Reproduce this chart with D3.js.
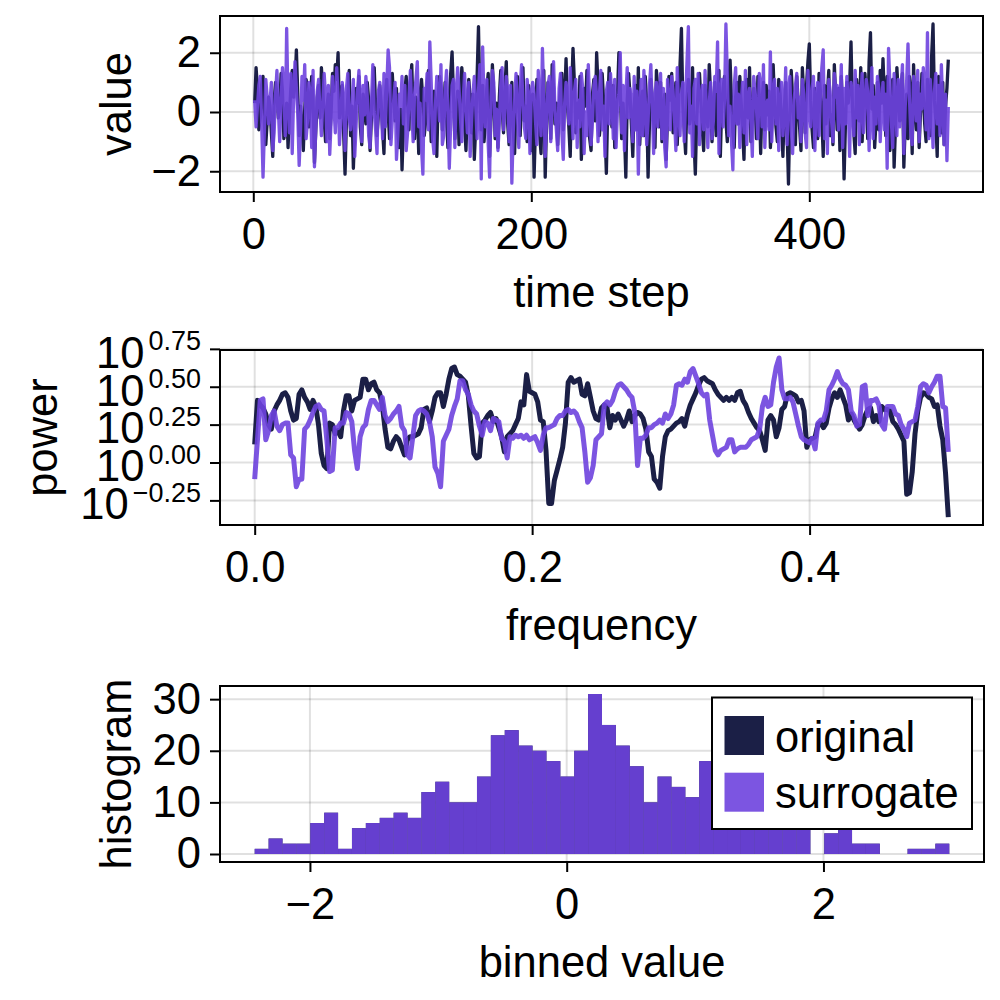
<!DOCTYPE html>
<html><head><meta charset="utf-8">
<script src="https://cdn.jsdelivr.net/npm/d3@7"></script>
<style>
body{margin:0;background:#fff}
svg{display:block}
text{font-family:"Liberation Sans", Arial, Helvetica, sans-serif; fill:#000}
</style>
</head><body>
<svg id="c" width="1000" height="1000"></svg>
<script>
// ---------------- DATA ----------------
const seriesNames = ["original", "surrogate"];

// time series (time step 1..500)
const originalSeries = [
0.3,1.5,0.8,-0.6,-0.2,0.9,1.2,-0.4,-1.1,-0.3,
0.5,0.2,-0.7,-1.5,0.4,1.0,0.6,-0.2,0.1,1.3,
0.7,-0.9,-0.5,0.3,-1.2,-0.1,0.8,1.4,0.5,0.9,
2.1,0.6,-0.8,0.2,-0.4,-1.3,0.1,1.1,0.7,-0.5,
0.3,1.2,0.4,-1.7,-0.6,0.5,0.9,-0.2,1.5,0.8,
-0.3,-1.0,0.2,0.6,-0.9,0.0,1.3,0.7,1.6,1.1,
2.0,-0.2,0.4,0.9,-0.7,-2.1,-0.3,0.5,1.4,-0.8,
0.2,-1.9,-0.6,0.8,0.3,1.2,-0.5,-1.1,0.6,0.1,
-0.4,1.0,0.4,-1.3,-0.2,0.7,1.5,0.2,-0.8,-0.1,
0.9,0.3,-0.6,-1.4,0.5,1.1,0.0,-0.9,0.6,1.3,
0.4,-0.3,0.8,-0.7,-1.2,0.1,-1.95,-0.5,0.7,1.2,
0.3,-0.6,1.0,1.6,-0.1,-0.9,0.5,0.2,-1.4,0.6,
1.1,0.4,-0.8,-0.3,0.9,1.4,0.3,-1.0,-0.4,0.7,
0.2,-1.5,0.5,1.2,0.8,-0.6,0.1,1.0,-0.2,-1.2,
0.4,1.3,2.03,0.6,-0.9,-0.2,0.7,-1.1,0.3,1.5,
0.9,-0.4,-1.3,0.2,1.1,0.5,-0.7,0.6,-1.6,-0.5,
1.2,2.88,0.4,-0.6,0.9,-1.0,-0.3,0.8,1.3,-1.5,
-0.2,1.6,0.6,-0.9,0.3,-1.2,0.5,1.4,0.1,-0.7,
0.8,1.7,-0.4,-1.1,0.2,1.0,-0.6,-1.4,0.4,1.2,
0.5,-0.8,0.7,1.5,-0.3,0.2,-1.0,0.9,0.3,-1.3,
0.6,-2.2,-0.5,1.1,0.4,-0.8,-1.4,0.7,1.4,-2.2,
-0.3,1.0,0.5,-0.9,1.6,0.8,-0.4,0.3,-1.1,0.1,
0.9,1.3,-0.6,0.4,1.8,0.2,-0.5,-1.5,0.7,2.15,
1.0,-0.7,0.3,-0.2,1.2,-1.6,-0.4,0.8,0.2,1.4,
0.5,-0.9,-1.3,0.6,1.1,-0.3,2.0,0.9,-0.8,-0.2,
1.3,0.4,-0.6,-2.07,0.2,1.5,0.7,-0.5,0.9,-1.2,
-0.1,0.6,2.0,0.8,-0.9,0.3,-0.7,-2.2,0.4,1.3,
0.6,-0.4,-1.5,0.2,0.9,-0.6,1.5,-1.1,0.0,0.7,
-0.8,1.2,0.3,-2.2,-0.4,1.1,0.5,-0.3,-1.2,1.4,
0.8,-0.5,1.0,-1.0,0.1,0.6,-1.6,-0.2,1.2,0.4,
1.3,-0.7,0.2,1.0,-1.1,0.4,1.6,2.82,0.3,-0.6,
-1.4,0.5,1.1,-0.4,0.0,1.5,-0.9,-2.1,-0.2,0.7,
1.3,0.4,-0.6,-1.3,0.9,0.2,-0.5,1.6,0.6,-1.0,
0.1,1.0,-0.8,-0.2,1.4,-1.5,0.3,0.8,1.2,-0.3,
-1.0,0.6,1.75,0.4,-0.7,-1.2,0.5,1.0,-0.4,1.2,
0.3,-0.6,-1.6,0.7,1.1,-0.2,1.5,-1.0,-0.3,0.8,
0.2,-0.9,1.2,0.5,-1.4,0.4,1.0,-0.6,0.9,-0.1,
0.7,-1.2,-0.4,1.6,0.3,-0.5,-1.0,1.1,0.6,-0.3,
-1.5,0.1,1.0,-0.6,-2.43,-0.2,1.4,0.5,-0.4,-1.1,
1.2,0.3,-0.5,-1.3,1.5,0.6,-0.7,0.9,1.7,2.3,
0.4,-0.6,-1.2,0.8,0.2,-0.9,1.3,0.7,-0.2,-1.5,
0.9,-0.4,0.6,1.4,-0.8,-0.1,-1.1,1.6,0.5,-0.6,
0.8,-1.3,1.2,0.1,-2.26,-0.4,1.0,0.3,0.9,2.37,
0.2,-0.7,-1.4,1.1,0.5,-0.3,1.5,-1.0,0.4,1.3,
0.6,-0.9,1.7,2.68,0.1,0.9,-1.2,-0.3,1.0,-0.6,
1.4,0.3,1.8,0.5,-0.8,1.2,0.4,-1.3,0.2,1.1,
-1.86,-0.5,1.5,0.6,-0.3,0.9,1.3,-1.86,-0.4,0.6,
-0.9,1.2,0.7,-1.4,1.6,0.2,-0.6,1.0,-1.2,0.0,
1.3,0.5,-0.4,-1.0,1.1,0.3,-0.8,1.9,2.97,0.4,
-0.3,-1.5,1.2,0.6,-0.7,1.0,-1.1,0.2,0.8,1.77
];
const surrogateSeries = [
0.4,-0.5,0.2,0.9,1.2,-0.3,-2.2,-0.6,1.1,0.5,
-0.4,0.3,1.0,-1.3,-0.7,0.6,1.4,0.1,-1.0,0.4,
1.5,0.7,-0.8,2.82,0.3,-0.7,1.3,-1.4,0.5,1.7,
0.8,-0.1,-1.8,-0.6,1.2,0.4,1.6,-0.9,-0.3,1.0,
0.6,-1.2,1.4,-1.85,-0.5,0.7,1.1,0.0,-0.8,0.3,
1.3,0.5,-1.0,0.9,-1.43,-0.3,1.2,0.2,-0.7,1.5,
0.6,-1.1,-0.2,1.0,0.4,-1.3,0.8,1.3,-0.2,-0.6,
0.2,1.1,-1.5,-0.4,0.7,1.4,0.3,-1.0,0.9,-0.1,
1.2,0.5,-0.8,-1.2,0.3,1.6,0.0,-0.6,-1.4,0.7,
1.0,0.3,-0.9,1.3,-0.5,0.8,2.1,1.5,-1.1,-0.3,
0.4,1.0,-1.6,-0.8,0.6,0.2,1.2,-0.4,0.9,-1.3,
-0.7,0.5,1.4,0.1,-1.0,0.6,1.1,1.7,-0.5,0.3,
-1.2,-2.1,0.8,0.4,1.3,-0.6,2.37,1.0,-0.9,-1.4,
0.2,1.2,0.5,-0.3,1.6,-1.1,-0.8,0.7,1.4,0.0,
-1.9,-0.4,0.9,1.1,-1.2,0.6,1.5,0.8,-0.2,-1.0,
0.4,1.3,0.1,-0.7,1.0,-1.5,-0.3,0.6,1.2,0.2,
-0.9,0.7,1.6,-2.26,2.2,0.3,-0.5,1.1,-1.1,-2.2,
0.5,1.4,1.0,-0.8,0.1,-1.3,-0.4,0.9,1.5,-0.6,
0.2,1.2,0.6,-1.0,0.9,-2.4,-0.7,0.4,1.3,0.0,
-1.2,0.8,1.6,0.3,-0.5,-0.9,1.1,0.5,-1.4,0.7,
1.0,0.6,-0.3,-1.1,1.4,0.2,-0.8,2.15,0.4,-1.5,
-0.2,0.9,1.2,-1.0,0.5,1.7,0.1,-0.6,-1.3,0.8,
1.3,-0.7,-1.6,0.3,1.0,0.6,-0.4,1.5,0.2,-0.9,
0.7,1.1,-1.2,0.4,-0.5,1.3,0.8,-1.4,0.0,-0.8,
1.6,0.3,-1.1,-0.3,0.9,1.2,0.5,-1.0,0.6,1.4,
-0.6,0.2,-1.5,0.7,1.0,-0.4,1.3,0.4,-0.9,1.1,
-1.2,0.1,0.6,2.0,-0.7,0.9,-1.3,0.5,1.5,-0.2,
0.8,0.3,-1.0,1.2,-0.6,0.7,-2.1,0.0,1.1,-0.8,
1.4,0.4,-1.1,-0.3,0.9,1.6,0.2,-1.4,0.6,1.0,
-0.5,0.5,1.3,-0.9,0.8,-1.2,-1.85,1.1,0.3,-0.6,
1.2,0.7,-0.2,-1.3,1.5,0.1,-0.8,0.6,1.0,-1.0,
0.4,1.7,2.88,-0.7,0.2,-1.5,0.8,1.1,-0.4,1.3,
-1.1,0.5,0.9,-0.6,1.4,0.0,-1.2,0.3,1.0,-0.9,
-0.3,1.2,0.7,2.37,-1.4,0.6,1.1,-0.5,0.4,2.97,
1.3,-0.8,0.2,-1.0,-1.95,0.9,1.5,-0.4,0.6,-1.2,
0.3,1.0,-0.7,1.4,-1.1,0.5,0.8,-0.3,-1.5,1.2,
0.7,0.1,-0.9,1.3,0.9,-0.5,1.6,-1.2,0.2,0.4,
-0.6,2.03,-1.0,0.6,1.1,-0.4,0.8,-1.3,0.3,1.0,
-0.8,0.0,1.5,-1.1,0.7,1.2,-0.6,-1.4,0.4,0.9,
1.3,-0.2,0.5,-1.0,1.1,0.6,-0.7,-1.2,1.4,0.2,
-0.5,0.8,1.2,-1.3,0.3,1.0,-0.8,0.6,1.5,2.1,
-0.9,0.4,-1.4,1.1,0.7,-0.3,-1.0,1.3,0.5,0.9,
-0.6,0.1,1.6,-1.2,0.8,-0.4,1.2,0.3,-1.5,1.0,
0.6,-0.8,1.4,-0.2,0.9,-1.1,0.4,1.3,-0.7,0.2,
1.1,0.7,-1.3,0.0,1.5,-0.9,0.5,-0.4,1.2,0.8,
-1.0,0.3,1.0,-0.6,0.6,-1.9,2.15,0.9,-0.3,-1.2,
1.3,0.4,-0.8,1.1,-0.5,0.7,1.6,-1.4,0.2,1.0,
2.3,0.5,-0.7,-1.1,1.2,0.9,-0.3,1.4,-1.0,0.6,
0.1,1.5,0.8,-0.6,2.68,-0.9,1.1,0.3,-1.2,0.7,
1.3,-0.4,0.9,-0.8,1.6,0.2,-1.1,0.6,-1.64,0.17
];

// power spectra: log10(power) at frequency index k (frequency = k * 0.002, k = 0..250)
const frequencyStep = 0.002;
const originalLog10Power = [
0.12,0.41,0.38,0.36,0.32,0.25,0.22,0.34,0.38,0.41,
0.45,0.46,0.43,0.34,0.28,0.29,0.45,0.48,0.43,0.40,
0.35,0.41,0.37,0.25,0.06,-0.02,-0.04,0.26,0.25,0.19,
0.21,0.17,0.34,0.44,0.44,0.34,0.41,0.42,0.43,0.55,
0.55,0.48,0.52,0.53,0.48,0.46,0.38,0.22,0.10,0.09,
0.14,0.17,0.15,0.10,0.05,0.15,0.17,0.17,0.18,0.19,
0.23,0.35,0.36,0.27,0.34,0.43,0.46,0.46,0.37,0.45,
0.55,0.62,0.63,0.58,0.57,0.55,0.53,0.44,0.24,0.06,
0.03,0.04,0.26,0.28,0.31,0.33,0.27,0.29,0.23,0.17,
0.07,0.17,0.19,0.21,0.25,0.29,0.40,0.38,0.58,0.47,
0.46,0.45,0.40,0.28,0.27,0.08,-0.27,-0.27,-0.12,-0.05,
0.02,0.10,0.26,0.53,0.56,0.53,0.54,0.55,0.45,0.44,
0.52,0.43,0.34,0.29,0.28,0.36,0.38,0.36,0.23,0.31,
0.28,0.32,0.28,0.24,0.28,0.34,0.27,0.31,0.33,0.32,
0.29,0.22,0.07,0.04,-0.11,-0.13,-0.17,0.04,0.17,0.21,
0.22,0.24,0.26,0.27,0.29,0.24,0.32,0.38,0.42,0.46,
0.51,0.55,0.56,0.54,0.53,0.52,0.48,0.45,0.43,0.41,
0.43,0.41,0.43,0.41,0.46,0.47,0.41,0.38,0.33,0.29,
0.26,0.23,0.21,0.15,0.08,0.28,0.31,0.28,0.17,0.23,
0.35,0.37,0.45,0.46,0.45,0.44,0.40,0.41,0.34,0.10,
0.15,0.16,0.17,0.25,0.26,0.23,0.26,0.36,0.42,0.46,
0.43,0.48,0.43,0.38,0.28,0.32,0.28,0.25,0.22,0.25,
0.31,0.35,0.36,0.27,0.31,0.27,0.37,0.35,0.35,0.34,
0.27,0.25,0.22,0.18,0.14,-0.21,-0.20,-0.06,0.19,0.34,
0.43,0.46,0.45,0.43,0.42,0.37,0.38,0.24,0.15,-0.07,
-0.36
];
const surrogateLog10Power = [
-0.11,0.15,0.41,0.42,0.15,0.21,0.31,0.34,0.24,0.21,
0.25,0.26,0.26,0.05,0.03,-0.16,-0.11,-0.11,0.22,0.24,
0.28,0.33,0.37,0.38,0.35,0.34,0.15,-0.06,-0.05,0.23,
0.23,0.26,0.26,0.33,0.32,0.27,0.08,-0.04,0.17,0.23,
0.25,0.35,0.41,0.41,0.38,0.35,0.43,0.31,0.27,0.29,
0.32,0.34,0.37,0.24,0.21,0.05,0.03,0.17,0.31,0.34,
0.35,0.34,0.32,0.27,0.17,-0.03,-0.07,-0.16,0.14,0.18,
0.22,0.31,0.37,0.42,0.54,0.54,0.48,0.45,0.38,0.34,
0.32,0.24,0.18,0.27,0.26,0.21,0.29,0.28,0.27,0.16,
0.14,0.03,0.17,0.16,0.18,0.17,0.18,0.16,0.18,0.15,
0.16,0.17,0.13,0.08,0.18,0.23,0.23,0.24,0.25,0.29,
0.31,0.31,0.34,0.35,0.33,0.34,0.32,0.27,0.23,0.07,
-0.13,-0.10,-0.02,0.15,0.17,0.19,0.38,0.40,0.38,0.41,
0.47,0.51,0.52,0.50,0.48,0.45,0.43,0.33,-0.02,0.16,
0.16,0.18,0.23,0.23,0.25,0.26,0.28,0.26,0.32,0.29,
0.32,0.38,0.51,0.52,0.51,0.55,0.53,0.60,0.62,0.57,
0.52,0.46,0.44,0.45,0.28,0.18,0.08,0.05,0.08,0.09,
0.10,0.15,0.15,0.07,0.09,0.10,0.10,0.10,0.12,0.15,
0.16,0.17,0.22,0.37,0.43,0.37,0.38,0.53,0.63,0.69,
0.48,0.42,0.42,0.43,0.40,0.32,0.24,0.17,0.15,0.14,
0.13,0.16,0.09,0.26,0.28,0.28,0.34,0.48,0.51,0.55,
0.60,0.55,0.52,0.51,0.48,0.34,0.31,0.24,0.25,0.50,
0.51,0.31,0.41,0.41,0.42,0.38,0.25,0.22,0.37,0.37,
0.37,0.32,0.31,0.25,0.22,0.17,0.26,0.27,0.28,0.37,
0.50,0.52,0.51,0.46,0.50,0.53,0.57,0.57,0.37,0.36,
0.07
];

// histogram (50 equal bins between the data extremes)
const histRange = [-2.43, 2.98];
const originalBinCounts = [1,3,2,2,6,8,1,5,6,7, 8,7,12,14,10,10,15,23,24,21, 20,18,15,20,31,25,21,17,10,15, 13,11,18,12,11,9,10,8,7,6, 0,4,6,2,2,0,0,1,1,2];
const surrogateBinCounts = [1,3,2,2,6,8,1,5,6,7, 8,7,12,14,10,10,15,23,24,21, 20,18,15,20,31,25,21,17,10,15, 13,11,18,12,11,9,10,8,7,6, 0,4,6,2,2,0,0,1,1,2];

// ticks
const timeTicks = [0, 200, 400];
const valueTicks = [-2, 0, 2];
const freqTicks = [0.0, 0.2, 0.4];
const powerExpTicks = [-0.25, 0.0, 0.25, 0.50, 0.75];
const binTicks = [-2, 0, 2];
const countTicks = [0, 10, 20, 30];

// ---------------- STYLE ----------------
const colOriginal = "#1b1f46";
const colSurrogate = "rgb(110,66,222)";
const surrogateAlpha = 0.9;
const FS = 43.5;
const gridColor = "rgba(0,0,0,0.12)";

const svg = d3.select("#c");
svg.append("rect").attr("width", 1000).attr("height", 1000).attr("fill", "#fff");

function pad(ext, f = 0.05) { const r = ext[1] - ext[0]; return [ext[0] - f * r, ext[1] + f * r]; }

function drawAxes(box, x, y, xTicks, yTicks, xFmt, yFmt, xLabel, yLabel, yLabelX, isSup) {
  const g = svg.append("g");
  g.selectAll(null).data(xTicks).join("line")
    .attr("x1", d => x(d)).attr("x2", d => x(d)).attr("y1", box.y0).attr("y2", box.y1)
    .attr("stroke", gridColor).attr("stroke-width", 2);
  g.selectAll(null).data(yTicks).join("line")
    .attr("y1", d => y(d)).attr("y2", d => y(d)).attr("x1", box.x0).attr("x2", box.x1)
    .attr("stroke", gridColor).attr("stroke-width", 2);
  const clipId = "clip" + Math.round(box.y0);
  svg.append("clipPath").attr("id", clipId).append("rect")
    .attr("x", box.x0).attr("y", box.y0).attr("width", box.x1 - box.x0).attr("height", box.y1 - box.y0);
  const content = svg.append("g").attr("clip-path", `url(#${clipId})`);
  const finish = () => {
    const top = svg.append("g");
    top.append("rect").attr("x", box.x0).attr("y", box.y0).attr("width", box.x1 - box.x0).attr("height", box.y1 - box.y0)
      .attr("fill", "none").attr("stroke", "#000").attr("stroke-width", 2);
    const ax = top.append("g").attr("transform", `translate(0,${box.y1})`)
      .call(d3.axisBottom(x).tickValues(xTicks).tickFormat(xFmt).tickSize(10).tickPadding(16.5).tickSizeOuter(0));
    const ay = top.append("g").attr("transform", `translate(${box.x0},0)`)
      .call(d3.axisLeft(y).tickValues(yTicks).tickFormat(yFmt).tickSize(10).tickPadding(9).tickSizeOuter(0));
    [ax, ay].forEach(a => {
      a.select(".domain").remove();
      a.selectAll(".tick line").attr("stroke", "#000").attr("stroke-width", 2);
      a.selectAll(".tick text").attr("font-size", FS).attr("font-family", null).attr("fill", "#000");
    });
    if (isSup) {
      ay.selectAll(".tick text").each(function(d) {
        const t = d3.select(this);
        const exp = d3.format(".2f")(Math.log10(d));
        t.text(null).attr("dy", "0.42em");
        t.append("tspan").text("10");
        t.append("tspan").attr("font-size", FS * 0.62).attr("dx", 4).attr("dy", -FS * 0.4).text(exp);
      });
    }
    top.append("text").attr("x", (box.x0 + box.x1) / 2).attr("y", box.y1 + 115)
      .attr("text-anchor", "middle").attr("font-size", FS).text(xLabel);
    top.append("text").attr("transform", `translate(${yLabelX},${(box.y0 + box.y1) / 2}) rotate(-90)`)
      .attr("text-anchor", "middle").attr("font-size", FS).text(yLabel);
  };
  return { content, finish };
}

// ---------------- PANEL 1: time series ----------------
{
  const box = { x0: 220, x1: 983, y0: 16, y1: 192 };
  const steps = originalSeries.map((_, i) => i + 1);
  const x = d3.scaleLinear().domain(pad([1, originalSeries.length])).range([box.x0, box.x1]);
  const y = d3.scaleLinear().domain(pad(d3.extent(originalSeries.concat(surrogateSeries)))).range([box.y1, box.y0]);
  const p = drawAxes(box, x, y, timeTicks, valueTicks, d3.format("d"), d3.format("d"), "time step", "value", 131, false);
  const line = d3.line().x((d, i) => x(steps[i])).y(d => y(d));
  p.content.append("path").datum(originalSeries).attr("d", line).attr("fill", "none")
    .attr("stroke", colOriginal).attr("stroke-width", 3.3).attr("stroke-linejoin", "round");
  p.content.append("path").datum(surrogateSeries).attr("d", line).attr("fill", "none")
    .attr("stroke", colSurrogate).attr("stroke-opacity", surrogateAlpha).attr("stroke-width", 3.3).attr("stroke-linejoin", "round");
  p.finish();
}

// ---------------- PANEL 2: power spectrum ----------------
{
  const box = { x0: 220, x1: 983, y0: 350, y1: 525 };
  const freqs = originalLog10Power.map((_, k) => k * frequencyStep);
  const x = d3.scaleLinear().domain(pad(d3.extent(freqs))).range([box.x0, box.x1]);
  const le = pad(d3.extent(originalLog10Power.concat(surrogateLog10Power)));
  const y = d3.scaleLog().domain([10 ** le[0], 10 ** le[1]]).range([box.y1, box.y0]);
  const p = drawAxes(box, x, y, freqTicks, powerExpTicks.map(e => 10 ** e), d3.format(".1f"), d => d, "frequency", "power", 57, true);
  const line = d3.line().x((d, i) => x(freqs[i])).y(d => y(10 ** d));
  p.content.append("path").datum(originalLog10Power).attr("d", line).attr("fill", "none")
    .attr("stroke", colOriginal).attr("stroke-width", 5).attr("stroke-linejoin", "round");
  p.content.append("path").datum(surrogateLog10Power).attr("d", line).attr("fill", "none")
    .attr("stroke", colSurrogate).attr("stroke-opacity", surrogateAlpha).attr("stroke-width", 5).attr("stroke-linejoin", "round");
  p.finish();
}

// ---------------- PANEL 3: histogram ----------------
{
  const box = { x0: 220, x1: 984, y0: 686, y1: 862 };
  const nb = originalBinCounts.length;
  const bw = (histRange[1] - histRange[0]) / nb;
  const x = d3.scaleLinear().domain(pad(histRange)).range([box.x0, box.x1]);
  const y = d3.scaleLinear().domain(pad([0, d3.max(originalBinCounts.concat(surrogateBinCounts))])).range([box.y1, box.y0]);
  const p = drawAxes(box, x, y, binTicks, countTicks, d3.format("d"), d3.format("d"), "binned value", "histogram", 131, false);
  [[originalBinCounts, colOriginal, 1], [surrogateBinCounts, colSurrogate, surrogateAlpha]].forEach(([counts, col, a]) => {
    p.content.append("g").selectAll("rect").data(counts.map((c, i) => ({ c, i })).filter(d => d.c > 0)).join("rect")
      .attr("x", d => x(histRange[0] + d.i * bw)).attr("width", d => x(histRange[0] + (d.i + 1) * bw) - x(histRange[0] + d.i * bw))
      .attr("y", d => y(d.c)).attr("height", d => y(0) - y(d.c))
      .attr("fill", col).attr("fill-opacity", a);
  });
  p.finish();

  // legend
  const lg = svg.append("g");
  lg.append("rect").attr("x", 712).attr("y", 697.5).attr("width", 260).attr("height", 131.5)
    .attr("fill", "#fff").attr("stroke", "#000").attr("stroke-width", 2);
  const cols = [[colOriginal, 1], [colSurrogate, surrogateAlpha]];
  seriesNames.forEach((name, i) => {
    lg.append("rect").attr("x", 724.5).attr("y", 716 + i * 56.7).attr("width", 39.5).attr("height", 39)
      .attr("fill", cols[i][0]).attr("fill-opacity", cols[i][1]);
    lg.append("text").attr("x", 775).attr("y", 751.5 + i * 56.7).attr("font-size", FS).text(name);
  });
}
</script>
</body></html>
